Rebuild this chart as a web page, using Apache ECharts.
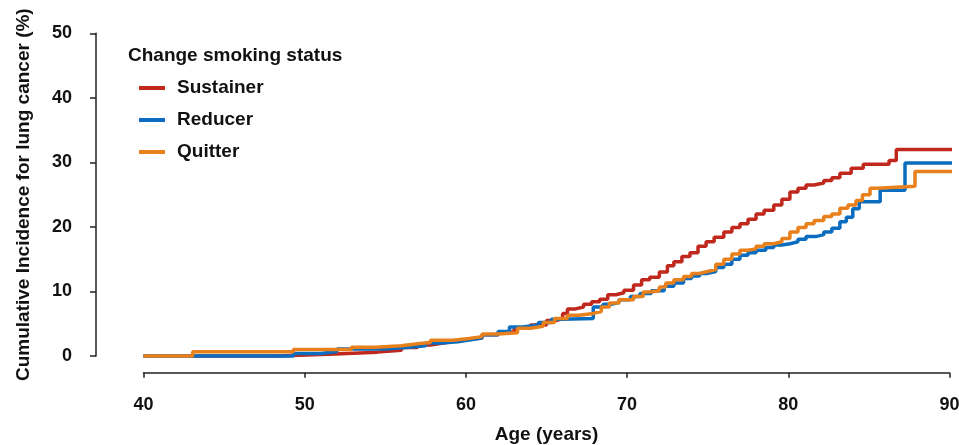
<!DOCTYPE html>
<html>
<head>
<meta charset="utf-8">
<script src="https://cdn.jsdelivr.net/npm/echarts@6/dist/echarts.min.js"></script>
<style>html,body{margin:0;padding:0;background:#fff;}#c{width:959px;height:445px;}</style>
</head>
<body>
<div id="c"></div>
<script>
const seriesNames = ["Sustainer", "Reducer", "Quitter"];
const legendTitle = "Change smoking status";
const xName = "Age (years)";
const yName = "Cumulative Incidence for lung cancer (%)";
const xTicks = [40, 50, 60, 70, 80, 90];
const yTicks = [0, 10, 20, 30, 40, 50];

const sustainer = [
  [40,0],[48.3,0.3],[51.9,0.6],[54.5,0.9],[56.0,1.3],[57.0,1.7],[57.8,2.0],[58.6,2.3],[59.3,2.6],
  [60.2,2.8],[61.0,3.3],[62.0,3.7],[63.0,4.3],[64.0,4.8],[65.0,5.5],[65.6,5.8],[66.0,6.6],[66.3,7.3],
  [66.8,7.6],[67.3,8.0],[67.8,8.4],[68.3,8.8],[68.8,9.5],[69.3,9.8],[69.8,10.2],[70.4,11.0],[70.9,11.8],
  [71.4,12.2],[72.0,13.0],[72.5,14.0],[72.9,14.6],[73.4,15.4],[73.9,16.0],[74.4,17.0],[74.9,17.7],
  [75.4,18.4],[76.0,19.2],[76.5,19.9],[77.0,20.5],[77.5,21.2],[78.0,22.0],[78.5,22.6],[79.1,23.4],
  [79.6,24.3],[80.1,25.4],[80.6,26.0],[81.1,26.5],[81.6,26.8],[82.2,27.2],[82.7,27.6],[83.2,28.3],
  [83.9,29.1],[84.65,29.7],[86.25,30.3],[86.7,32.0],[90.6,32.0]
];
const reducer = [
  [40,0],[49.3,0.4],[51.0,0.7],[52.0,1.1],[55.0,1.3],[56.3,1.6],[57.5,2.0],[58.5,2.2],[59.5,2.5],
  [60.3,2.8],[61.0,3.3],[62.0,3.8],[62.7,4.5],[63.5,4.8],[64.5,5.2],[65.3,5.7],[66.0,5.8],[67.9,7.6],
  [68.5,8.0],[69.0,8.3],[69.5,8.7],[70.2,9.2],[70.8,9.7],[71.5,10.1],[72.3,10.8],[72.9,11.3],[73.5,12.0],
  [74.0,12.4],[74.5,12.8],[75.0,13.1],[75.5,13.7],[76.0,14.2],[76.5,15.0],[77.0,15.6],[77.5,16.0],
  [78.0,16.4],[78.6,16.8],[79.1,17.2],[79.6,17.4],[80.1,17.7],[80.6,18.1],[81.1,18.5],[81.7,18.8],
  [82.2,19.2],[82.7,19.8],[83.2,20.8],[83.6,21.5],[84.0,22.8],[84.4,23.9],[85.7,25.7],[87.24,29.9],[90.6,29.9]
];
const quitter = [
  [40,0],[43.05,0.67],[49.3,1.0],[52.9,1.35],[54.4,1.6],[56.0,1.9],[57.0,2.1],[57.8,2.45],[59.2,2.7],
  [60.2,3.0],[61.0,3.4],[62.0,3.6],[63.2,4.3],[64.0,4.6],[64.8,5.2],[65.5,5.8],[66.3,6.3],[67.0,6.6],
  [67.9,6.9],[68.4,7.6],[68.9,8.2],[69.5,8.7],[70.4,9.2],[71.0,9.9],[71.4,10.1],[72.0,10.7],[72.4,11.3],
  [72.9,11.8],[73.5,12.3],[74.0,12.8],[74.5,13.1],[75.0,13.4],[75.5,14.2],[76.0,15.0],[76.5,15.8],
  [77.0,16.4],[77.5,16.6],[78.0,17.0],[78.5,17.4],[79.1,17.7],[79.6,18.2],[80.1,19.2],[80.6,19.9],
  [81.1,20.5],[81.6,21.0],[82.2,21.6],[82.7,22.0],[83.2,22.9],[83.7,23.4],[84.2,24.1],[84.6,25.0],
  [85.07,26.0],[85.5,26.3],[87.86,28.6],[90.6,28.6]
];
const seriesData = [sustainer, reducer, quitter];
const colors = ["#C0281E", "#0A6DBF", "#E8801C"];

const FONT = '"Liberation Sans", Arial, sans-serif';
const chart = echarts.init(document.getElementById('c'), null, {renderer: 'canvas'});
chart.setOption({
  animation: false,
  backgroundColor: '#ffffff',
  title: {
    text: legendTitle, left: 123, top: 41,
    textStyle: {fontFamily: FONT, fontWeight: 'bold', fontSize: 19, color: '#111'}
  },
  legend: {
    orient: 'vertical', left: 134, top: 73.5, itemGap: 13,
    itemWidth: 26, itemHeight: 4, icon: 'rect',
    data: seriesNames,
    textStyle: {fontFamily: FONT, fontWeight: 'bold', fontSize: 19, lineHeight: 19, color: '#111', padding: [0,0,0,7]}
  },
  grid: {left: 143.5, right: 9.5, top: 33.3, bottom: 89, containLabel: false, outerBoundsMode: 'none'},
  xAxis: {
    type: 'value', min: xTicks[0], max: xTicks[xTicks.length-1], interval: 10, offset: 16.7,
    name: xName, nameLocation: 'middle', nameGap: 53,
    nameTextStyle: {fontFamily: FONT, fontWeight: 'bold', fontSize: 19, color: '#111'},
    axisLine: {show: true, onZero: false, lineStyle: {color: '#222', width: 1.5}},
    axisTick: {show: true, inside: false, length: 5, lineStyle: {color: '#222', width: 1.5}},
    axisLabel: {margin: 23, fontFamily: FONT, fontWeight: 'bold', fontSize: 18, color: '#111'},
    splitLine: {show: false}
  },
  yAxis: {
    type: 'value', min: yTicks[0], max: yTicks[yTicks.length-1], interval: 10, offset: 47.5,
    name: yName, nameLocation: 'middle', nameGap: 63,
    nameTextStyle: {fontFamily: FONT, fontWeight: 'bold', fontSize: 19, color: '#111'},
    axisLine: {show: true, onZero: false, lineStyle: {color: '#222', width: 1.5}},
    axisTick: {show: true, inside: false, length: 6, lineStyle: {color: '#222', width: 1.5}},
    axisLabel: {margin: 24, fontFamily: FONT, fontWeight: 'bold', fontSize: 18, color: '#111'},
    splitLine: {show: false}
  },
  series: seriesNames.map((n, i) => ({
    name: n, type: 'line', step: 'end', data: seriesData[i],
    showSymbol: false, symbol: 'none', clip: false,
    color: colors[i],
    lineStyle: {color: colors[i], width: 3.5},
    z: 2 + i
  }))
});
</script>
</body>
</html>
